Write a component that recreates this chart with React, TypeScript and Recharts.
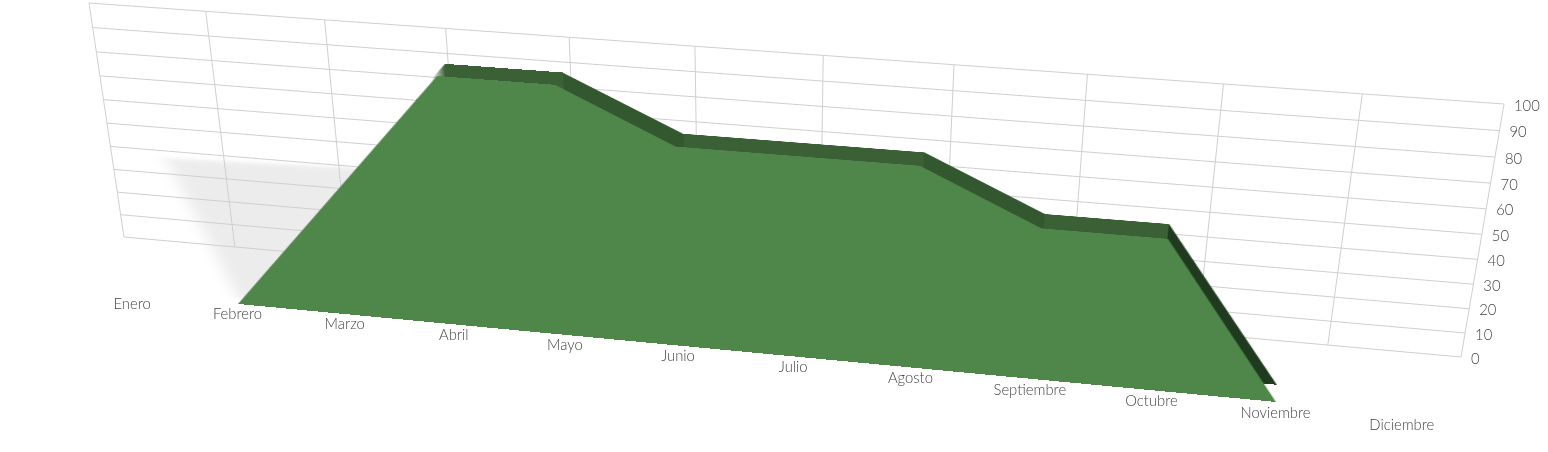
import { AreaChart, Area, CartesianGrid, XAxis, YAxis } from "recharts";

const months = ["Enero", "Febrero", "Marzo", "Abril", "Mayo", "Junio", "Julio", "Agosto", "Septiembre", "Octubre", "Noviembre", "Diciembre"];
const values = [null, 0, 50, 100, 100, 80, 80, 80, 60, 60, 0, null];
// the shadow's far edge runs straight until it goes behind the face
const shadowValues = [null, 0, 50, 100, 100, 100, 100, 100, 100, 100, 100, null];
const yTicks = [0, 10, 20, 30, 40, 50, 60, 70, 80, 90, 100];

const data = months.map((m, i) => ({ month: m, value: values[i], shadow: shadowValues[i] }));

const PAGE_W = 1548;
const PAGE_H = 452;
const PLOT_W = PAGE_W - 1;
const PLOT_H = PAGE_H - 1;
const LAYER_W = 1000;
const LAYER_H = 500;

type Pt = [number, number];

// corners: top-left, top-right, bottom-right, bottom-left
const WALL: Pt[] = [[89, 3], [1504, 104], [1461, 357], [124, 237]];
const FRONT: Pt[] = [[96.4, 50.6], [1447, 151.3], [1402.3, 413.9], [132.6, 294]];
const BACK: Pt[] = [[103.4, 38.6], [1440, 137.3], [1400.3, 395.9], [140.6, 282]];
const SHADOW: Pt[] = [[-85, 146], [1115, 206], [1402, 408], [156, 292]];

function homography(q: Pt[]) {
  const [[x0, y0], [x1, y1], [x2, y2], [x3, y3]] = q;
  const dx1 = x1 - x2, dx2 = x3 - x2, sx = x0 - x1 + x2 - x3;
  const dy1 = y1 - y2, dy2 = y3 - y2, sy = y0 - y1 + y2 - y3;
  const den = dx1 * dy2 - dx2 * dy1;
  const g = (sx * dy2 - dx2 * sy) / den;
  const h = (dx1 * sy - sx * dy1) / den;
  return { a: x1 - x0 + g * x1, b: x3 - x0 + h * x3, c: x0, d: y1 - y0 + g * y1, e: y3 - y0 + h * y3, f: y0, g, h };
}

function project(q: Pt[], u: number, v: number): Pt {
  const m = homography(q);
  const w = m.g * u + m.h * v + 1;
  return [(m.a * u + m.b * v + m.c) / w, (m.d * u + m.e * v + m.f) / w];
}

function cssMatrix(q: Pt[]) {
  const m = homography(q);
  const W = LAYER_W, H = LAYER_H;
  return `matrix3d(${m.a / W},${m.d / W},0,${m.g / W},${m.b / H},${m.e / H},0,${m.h / H},0,0,1,0,${m.c},${m.f},0,1)`;
}

const GRID = "#cfcfcf";
const TEXT = "#444444";
const FONT = "Lato";

function gridLine(props: any) {
  const [ax, ay] = project(WALL, props.x1 / PLOT_W, props.y1 / PLOT_H);
  const [bx, by] = project(WALL, props.x2 / PLOT_W, props.y2 / PLOT_H);
  return <line key={props.key} x1={ax} y1={ay} x2={bx} y2={by} stroke={GRID} strokeWidth={1} />;
}

function MonthTick({ x, payload }: any) {
  const [px, py] = project(FRONT, x / PLOT_W, 1);
  return (
    <text x={px - 0.5} y={py + 15 + x / PLOT_W} textAnchor="middle" fontFamily={FONT} fontWeight={300} fontSize={14.8} fill={TEXT}>
      {payload.value}
    </text>
  );
}

function ValueTick({ y, payload }: any) {
  const [px, py] = project(WALL, 1, y / PLOT_H);
  return (
    <text x={px + 10} y={py + 6.5} textAnchor="start" fontFamily={FONT} fontWeight={300} fontSize={14.8} fill={TEXT}>
      {payload.value}
    </text>
  );
}

function Layer({ corners, fill, defs, blur, dataKey = "value" }: { corners: Pt[]; fill: string; defs?: any; blur?: number; dataKey?: string }) {
  return (
    <div
      style={{
        position: "absolute",
        left: 0,
        top: 0,
        width: LAYER_W,
        height: LAYER_H,
        transformOrigin: "0 0",
        transform: cssMatrix(corners),
        filter: blur ? `blur(${blur}px)` : undefined,
      }}
    >
      <AreaChart width={LAYER_W} height={LAYER_H} data={data} margin={{ top: 0, right: 0, bottom: 0, left: 0 }}>
        {defs}
        <XAxis dataKey="month" hide scale="point" padding={{ left: 0, right: 0 }} />
        <YAxis hide domain={[0, 100]} />
        <Area type="linear" dataKey={dataKey} fill={fill} fillOpacity={1} stroke="none" dot={false} isAnimationActive={false} />
      </AreaChart>
    </div>
  );
}

// top side of the extrusion, one colour per segment; nothing shows on the rising left edge
const bandStops = [
  { at: 0, to: 0.208, color: "#3b6036", opacity: 0 },
  { at: 0.222, to: 3 / 9, color: "#3b6036", opacity: 1 },
  { at: 3 / 9, to: 4 / 9, color: "#33572f", opacity: 1 },
  { at: 4 / 9, to: 6 / 9, color: "#3b6036", opacity: 1 },
  { at: 6 / 9, to: 7 / 9, color: "#33572f", opacity: 1 },
  { at: 7 / 9, to: 8 / 9, color: "#3b6036", opacity: 1 },
  { at: 8 / 9, to: 1, color: "#1f3a1e", opacity: 1 },
];

export default function App() {
  return (
    <div style={{ position: "absolute", left: 0, top: 0, width: PAGE_W, height: PAGE_H, overflow: "hidden", background: "#fff" }}>
      {/* shadow only shows left of the face, the rest would stick out on the right */}
      <div style={{ position: "absolute", left: 0, top: 0, width: 500, height: PAGE_H, overflow: "hidden" }}>
        <Layer corners={SHADOW} fill="#ececec" blur={8} dataKey="shadow" />
      </div>

      <div style={{ position: "absolute", left: 0, top: 0 }}>
        <AreaChart width={PAGE_W} height={PAGE_H} data={data} margin={{ top: 0, right: 0, bottom: 0, left: 0 }}>
          <CartesianGrid horizontal={gridLine} vertical={gridLine} />
          <XAxis
            dataKey="month"
            scale="point"
            padding={{ left: 0, right: 0 }}
            height={1}
            interval={0}
            axisLine={false}
            tickLine={false}
            tick={<MonthTick />}
          />
          <YAxis
            orientation="right"
            width={1}
            domain={[0, 100]}
            ticks={yTicks}
            interval={0}
            axisLine={false}
            tickLine={false}
            tick={<ValueTick />}
          />
          <Area type="linear" dataKey="value" fill="none" stroke="none" dot={false} isAnimationActive={false} />
        </AreaChart>
      </div>

      <Layer
        corners={BACK}
        fill="url(#bandFill)"
        defs={
          <defs>
            <linearGradient id="bandFill" x1="0" y1="0" x2="1" y2="0">
              {bandStops.flatMap((s, i) => [
                <stop key={i + "a"} offset={s.at} stopColor={s.color} stopOpacity={s.opacity} />,
                <stop key={i + "b"} offset={s.to} stopColor={s.color} stopOpacity={s.opacity} />,
              ])}
            </linearGradient>
          </defs>
        }
      />
      <Layer corners={FRONT} fill="#4e8749" />
    </div>
  );
}
